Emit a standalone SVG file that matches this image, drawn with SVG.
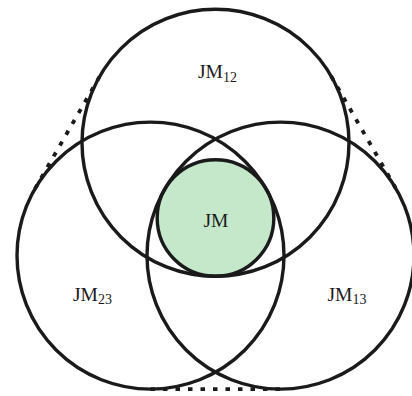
<svg xmlns="http://www.w3.org/2000/svg" width="412" height="396" viewBox="0 0 412 396">
<style>
.c{fill:none;stroke:#1a1a1a;stroke-width:3.4}
.g{fill:#c5e8cb;stroke:#1a1a1a;stroke-width:3.4}
.d{fill:none;stroke:#1a1a1a;stroke-width:3.8;stroke-dasharray:4.5 8}
.t{font-family:"Liberation Serif","DejaVu Serif",serif;font-size:19.5px;fill:#1a1a1a;text-anchor:middle}
.s{font-size:14px}
</style>
<rect width="412" height="396" fill="#fff"/>
<g id="JM">
<circle class="g" cx="215.5" cy="218" r="58.3"/>
<text class="t" x="216" y="227">JM</text>
</g>
<g id="JM12">
<circle class="c" cx="215.5" cy="142.8" r="133.5"/>
<text class="t" x="217.5" y="78">JM<tspan class="s" dy="3.5">12</tspan></text>
</g>
<g id="JM23">
<circle class="c" cx="150.5" cy="255.6" r="133.5"/>
<text class="t" x="92.5" y="300.5">JM<tspan class="s" dy="3.5">23</tspan></text>
</g>
<g id="JM13">
<circle class="c" cx="280.5" cy="255.6" r="133.5"/>
<text class="t" x="347" y="300.5">JM<tspan class="s" dy="3.5">13</tspan></text>
</g>
<g id="connectors">
<line class="d" x1="34.9" y1="188.85" x2="99.9" y2="76.05"/>
<line class="d" x1="331.1" y1="76.05" x2="396.1" y2="188.85"/>
<line class="d" x1="150.5" y1="389.1" x2="280.5" y2="389.1"/>
</g>
</svg>
